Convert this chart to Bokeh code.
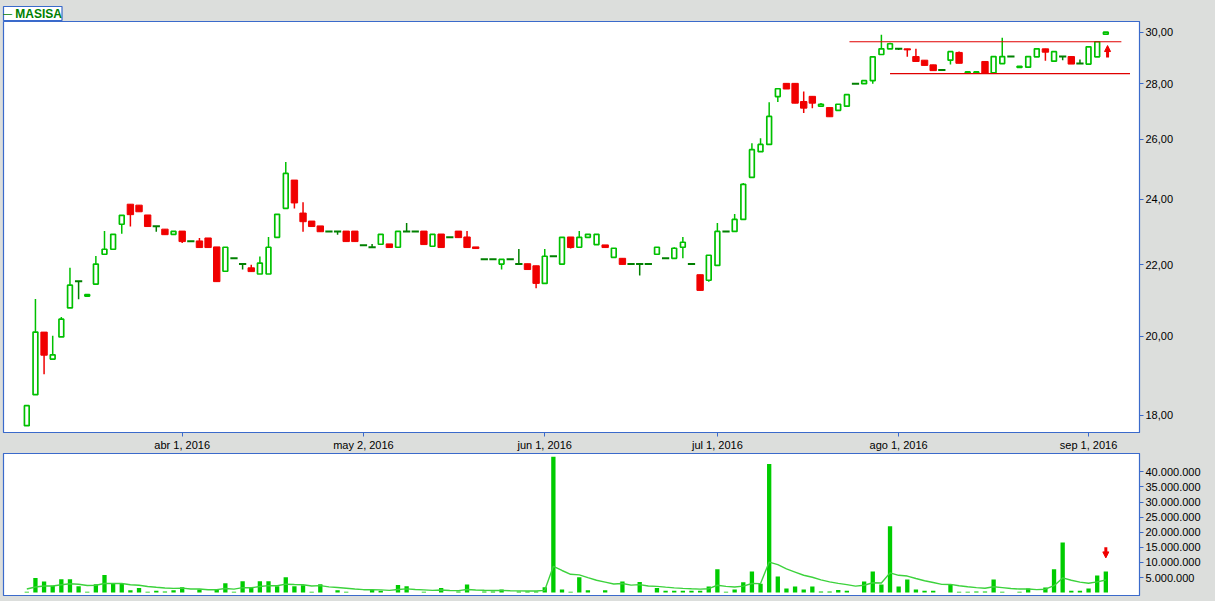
from bokeh.plotting import figure
from bokeh.layouts import column
from bokeh.models import (Range1d, FixedTicker, CustomJSTickFormatter,
                          Arrow, NormalHead, ColumnDataSource)
from bokeh.embed import file_html
from bokeh.resources import INLINE

# ---------------- data ----------------
opens = [17.75, 18.50, 20.11, 19.40, 19.98, 20.77, 21.52, 21.10, 21.44, 22.31,
         22.46, 23.22, 23.85, 23.82, 23.51, 23.16, 23.07, 22.91, 23.01, 22.70,
         22.71, 22.80, 22.53, 21.81, 22.19, 22.02, 21.91, 21.73, 21.73, 22.82,
         23.72, 24.63, 23.57, 23.32, 23.17, 23.00, 23.00, 23.01, 23.01, 22.58,
         22.52, 22.61, 22.62, 22.52, 23.00, 23.00, 23.01, 22.55, 22.92, 22.82,
         23.01, 22.83, 22.53, 22.16, 22.16, 22.02, 22.16, 22.02, 22.03, 21.97,
         21.46, 22.25, 22.02, 22.83, 22.52, 22.82, 22.60, 22.59, 22.22, 22.19,
         22.02, 22.02, 22.02, 22.31, 22.19, 22.19, 22.52, 22.02, 21.71, 21.55,
         21.98, 23.00, 23.00, 23.37, 24.72, 25.58, 25.83, 27.53, 28.02, 28.02,
         27.35, 27.54, 27.18, 27.13, 27.03, 27.18, 28.01, 28.01, 28.12, 29.12,
         29.34, 29.34, 29.34, 29.04, 28.90, 28.72, 28.52, 28.90, 29.20, 28.41,
         28.41, 28.85, 28.42, 28.77, 29.04, 28.62, 28.63, 29.03, 29.34, 28.86,
         29.04, 29.04, 28.77, 28.75, 29.03, 29.92]
closes = [18.23, 20.11, 19.50, 19.51, 20.46, 21.41, 21.52, 21.14, 22.02, 22.46,
          22.91, 23.50, 23.52, 23.61, 23.15, 23.16, 22.90, 23.00, 22.69, 22.70,
          22.51, 22.51, 21.51, 22.52, 22.19, 22.02, 21.80, 22.05, 22.52, 23.53,
          24.85, 23.89, 23.30, 23.15, 22.99, 23.00, 23.00, 22.69, 22.69, 22.58,
          22.52, 22.91, 22.51, 23.00, 23.00, 23.00, 22.60, 22.91, 22.51, 22.82,
          22.81, 22.51, 22.48, 22.16, 22.16, 22.16, 22.16, 22.02, 21.86, 21.46,
          22.25, 22.25, 22.82, 22.51, 22.82, 22.91, 22.91, 22.51, 22.49, 22.01,
          22.02, 22.02, 22.02, 22.52, 22.19, 22.49, 22.67, 22.02, 21.26, 22.28,
          23.00, 23.00, 23.37, 24.49, 25.65, 25.83, 26.81, 27.82, 27.81, 27.29,
          27.11, 27.29, 27.25, 26.80, 27.25, 27.60, 28.01, 28.12, 29.03, 29.34,
          29.54, 29.34, 29.30, 28.85, 28.70, 28.50, 28.52, 29.23, 28.78, 28.45,
          28.45, 28.41, 29.04, 29.04, 29.04, 28.66, 29.04, 29.34, 29.21, 29.23,
          29.04, 28.75, 28.77, 29.42, 29.62, 30.00]
highs = [18.23, 21.02, 20.11, 20.01, 20.52, 21.91, 21.52, 21.14, 22.26, 23.01,
         22.91, 23.50, 23.85, 23.82, 23.51, 23.16, 23.07, 23.00, 23.01, 22.70,
         22.80, 22.80, 22.53, 22.52, 22.19, 22.02, 22.00, 22.24, 22.83, 23.53,
         25.23, 24.63, 23.91, 23.32, 23.17, 23.00, 23.00, 23.01, 23.01, 22.58,
         22.62, 22.91, 22.62, 23.00, 23.26, 23.00, 23.01, 22.91, 22.92, 22.82,
         23.01, 23.01, 22.53, 22.16, 22.16, 22.16, 22.16, 22.47, 22.03, 21.97,
         22.47, 22.25, 22.82, 22.83, 23.01, 22.91, 22.91, 22.59, 22.49, 22.19,
         22.02, 22.02, 22.02, 22.52, 22.19, 22.52, 22.83, 22.02, 21.71, 22.28,
         23.26, 23.00, 23.54, 24.53, 25.87, 26.04, 27.32, 27.82, 28.02, 28.02,
         27.72, 27.54, 27.30, 27.13, 27.25, 27.60, 28.01, 28.12, 29.03, 29.90,
         29.58, 29.34, 29.34, 29.34, 28.90, 28.72, 28.52, 29.23, 29.24, 28.45,
         28.45, 28.85, 29.04, 29.78, 29.04, 28.66, 29.04, 29.34, 29.34, 29.23,
         29.04, 29.04, 28.93, 29.42, 29.62, 30.00]
lows = [17.75, 18.50, 19.01, 19.40, 19.98, 20.77, 21.01, 21.10, 21.44, 22.31,
        22.46, 22.93, 23.15, 23.61, 23.15, 22.99, 22.90, 22.91, 22.65, 22.70,
        22.51, 22.51, 21.51, 21.81, 22.19, 21.86, 21.80, 21.73, 21.73, 22.82,
        23.72, 23.71, 22.99, 23.15, 22.99, 23.00, 22.90, 22.69, 22.69, 22.58,
        22.52, 22.61, 22.51, 22.52, 23.00, 23.00, 22.60, 22.55, 22.51, 22.82,
        22.81, 22.51, 22.48, 22.16, 22.16, 21.86, 22.16, 22.02, 21.86, 21.32,
        21.46, 22.25, 22.02, 22.48, 22.52, 22.82, 22.60, 22.51, 22.22, 22.01,
        22.02, 21.69, 22.02, 22.31, 22.19, 22.19, 22.19, 22.02, 21.26, 21.51,
        21.98, 23.00, 23.00, 23.37, 24.72, 25.58, 25.83, 27.33, 27.81, 27.29,
        26.93, 27.11, 27.18, 26.80, 27.03, 27.18, 28.01, 28.01, 28.01, 29.12,
        29.34, 29.30, 29.03, 28.85, 28.70, 28.50, 28.52, 28.73, 28.78, 28.41,
        28.41, 28.41, 28.42, 28.77, 29.04, 28.62, 28.63, 29.03, 28.88, 28.86,
        28.90, 28.75, 28.77, 28.75, 29.03, 29.92]
# volume, millions of shares
volume_m = [0.3, 4.8, 3.7, 2.3, 4.45, 4.45, 2.1, 0.3, 2.8, 5.8,
            3.0, 3.0, 0.8, 1.5, 0.3, 0.6, 0.4, 0.8, 1.8, 0.0,
            1.0, 0.0, 1.0, 3.1, 0.3, 3.8, 1.5, 3.8, 3.8, 2.1,
            5.1, 2.1, 2.4, 0.3, 2.8, 0.0, 0.8, 0.3, 0.0, 0.0,
            0.9, 0.6, 0.0, 2.5, 2.1, 0.0, 0.3, 0.0, 1.5, 0.0,
            0.4, 2.7, 0.0, 0.4, 0.4, 1.0, 0.0, 0.4, 0.4, 0.4,
            1.8, 45.0, 1.0, 0.3, 5.1, 0.8, 0.0, 0.8, 0.0, 3.7,
            0.0, 3.5, 0.0, 1.5, 0.6, 0.6, 0.6, 0.6, 0.6, 2.0,
            7.7, 0.3, 1.0, 3.4, 7.0, 2.9, 42.6, 5.35, 1.4, 2.0,
            1.0, 2.0, 0.4, 0.4, 0.9, 0.6, 0.0, 3.7, 7.0, 2.7,
            22.0, 2.0, 4.35, 1.0, 0.6, 0.6, 0.0, 2.6, 0.3, 0.3,
            0.4, 0.4, 4.35, 0.3, 0.0, 0.3, 1.4, 0.0, 1.7, 7.7,
            16.6, 0.6, 0.6, 1.4, 5.7, 7.0]
# volume moving average line, millions
vol_avg_m = [1.20, 1.85, 2.18, 2.20, 2.61, 2.94, 2.79, 2.34, 2.42, 3.03,
             3.02, 3.02, 2.62, 2.42, 2.04, 1.78, 1.53, 1.40, 1.47, 1.21,
             1.17, 0.96, 0.97, 1.35, 1.16, 1.64, 1.61, 2.00, 2.32, 2.28,
             2.79, 2.67, 2.62, 2.20, 2.31, 1.89, 1.69, 1.44, 1.18, 0.97,
             0.96, 0.89, 0.73, 1.05, 1.24, 1.02, 0.89, 0.73, 0.87, 0.71,
             0.65, 1.02, 0.84, 0.76, 0.70, 0.75, 0.62, 0.58, 0.55, 0.52,
             0.75, 8.72, 7.33, 6.06, 5.89, 4.97, 4.08, 3.49, 2.86, 3.01,
             2.47, 2.66, 2.18, 2.06, 1.80, 1.58, 1.40, 1.26, 1.14, 1.29,
             2.44, 2.05, 1.86, 2.14, 3.01, 2.99, 10.12, 9.26, 7.85, 6.80,
             5.76, 5.08, 4.24, 3.55, 3.07, 2.63, 2.16, 2.44, 3.26, 3.16,
             6.55, 5.73, 5.48, 4.67, 3.94, 3.34, 2.74, 2.71, 2.28, 1.92,
             1.65, 1.43, 1.96, 1.66, 1.36, 1.17, 1.21, 0.99, 1.12, 2.30,
             4.87, 4.10, 3.47, 3.10, 3.57, 4.19]

date_tick_idx = [18, 39, 60, 80, 101, 123]
date_tick_labels = ["abr 1, 2016", "may 2, 2016", "jun 1, 2016",
                    "jul 1, 2016", "ago 1, 2016", "sep 1, 2016"]
price_ticks = [18, 20, 22, 24, 26, 28, 30]
volume_ticks = [5e6, 10e6, 15e6, 20e6, 25e6, 30e6, 35e6, 40e6]

# channel lines (level, start index, end index)
channel_levels = [29.62, 28.39]
channel_start = [95.3, 100.0]
channel_end = [126.8, 127.8]
# signal arrows
price_arrow = dict(x=125.2, y0=29.00, y1=29.47)
volume_arrow = dict(x=125.0, y0=15.0e6, y1=11.5e6)

# ---------------- styling ----------------
UP = "#00C000"
DOJI = "#008000"
DOWN = "#F00000"
FRAME = "#3A6ACB"
BG = "#DCDEDC"
FONT = "Liberation Sans"

n = len(opens)
idx = list(range(n))
up = [i for i in idx if closes[i] > opens[i]]
dn = [i for i in idx if closes[i] < opens[i]]
dj = [i for i in idx if closes[i] == opens[i]]
wick_col = [UP if closes[i] > opens[i] else (DOWN if closes[i] < opens[i] else DOJI) for i in idx]

x_range = Range1d(-2.7, 128.9)

p = figure(width=1215, height=453, x_range=x_range, y_range=Range1d(17.59, 30.43),
           y_axis_type="log", y_axis_location="right", output_backend="svg",
           toolbar_location=None, min_border_left=3, min_border_right=76,
           min_border_top=21, min_border_bottom=20)
p.background_fill_color = "white"
p.border_fill_color = BG
p.outline_line_color = FRAME
p.outline_line_width = 1.2
p.xgrid.visible = False
p.ygrid.visible = False

# legend-like tag at the top-left
p.title.text = "\u2500 MASISA"
p.title.align = "left"
p.title.text_font = FONT
p.title.text_font_size = "12px"
p.title.text_font_style = "bold"
p.title.text_color = DOJI
p.title.background_fill_color = "white"
p.title.border_line_color = FRAME
p.title.border_line_width = 1.2
p.title.standoff = 2
p.title.offset = 0

wsrc = ColumnDataSource(dict(x=idx, lo=lows, hi=highs, c=wick_col))
p.segment(x0="x", y0="lo", x1="x", y1="hi", line_color="c", line_width=1.5, source=wsrc)

usrc = ColumnDataSource(dict(x=up, o=[opens[i] for i in up], c=[closes[i] for i in up]))
p.vbar(x="x", width=0.55, bottom="o", top="c", fill_color="white", line_color=UP,
       line_width=1.7, source=usrc)
dsrc = ColumnDataSource(dict(x=dn, o=[opens[i] for i in dn], c=[closes[i] for i in dn]))
p.vbar(x="x", width=0.74, bottom="c", top="o", fill_color=DOWN, line_color=DOWN,
       line_width=1, source=dsrc)
jsrc = ColumnDataSource(dict(x0=[i - 0.42 for i in dj], x1=[i + 0.42 for i in dj],
                             y=[closes[i] for i in dj]))
p.segment(x0="x0", y0="y", x1="x1", y1="y", line_color=DOJI, line_width=2, source=jsrc)

p.segment(x0=channel_start, y0=channel_levels, x1=channel_end, y1=channel_levels,
          line_color="#E00000", line_width=1.2)

p.add_layout(Arrow(end=NormalHead(size=6, fill_color=DOWN, line_color=DOWN),
                   x_start=price_arrow["x"], y_start=price_arrow["y0"],
                   x_end=price_arrow["x"], y_end=price_arrow["y1"],
                   line_color=DOWN, line_width=3))

ya = p.yaxis[0]
ya.ticker = FixedTicker(ticks=price_ticks)
ya.formatter = CustomJSTickFormatter(code="return tick.toFixed(2).replace('.', ',');")
xa = p.xaxis[0]
xa.ticker = FixedTicker(ticks=date_tick_idx)
xa.major_label_overrides = dict(zip(date_tick_idx, date_tick_labels))
for ax in (xa, ya):
    ax.axis_line_color = FRAME
    ax.major_tick_line_color = FRAME
    ax.minor_tick_line_color = None
    ax.major_tick_in = 0
    ax.major_tick_out = 4
    ax.major_label_standoff = 2
    ax.major_label_text_font = FONT
    ax.major_label_text_font_size = "11px"
    ax.major_label_text_color = "#000000"

# ---------------- volume panel ----------------
v = figure(width=1215, height=148, x_range=x_range, y_range=Range1d(-0.96e6, 46.1e6),
           y_axis_location="right", output_backend="svg", toolbar_location=None,
           min_border_left=3, min_border_right=76, min_border_top=0, min_border_bottom=6)
v.background_fill_color = "white"
v.border_fill_color = BG
v.outline_line_color = FRAME
v.outline_line_width = 1.2
v.xgrid.visible = False
v.ygrid.visible = False
v.xaxis.visible = False

vsrc = ColumnDataSource(dict(x=idx, vol=[m * 1e6 for m in volume_m],
                             avg=[m * 1e6 for m in vol_avg_m]))
v.vbar(x="x", width=0.5, bottom=0, top="vol", fill_color="#00CC00", line_color=None, source=vsrc)
v.line(x="x", y="avg", line_color="#3CD23C", line_width=1.4, source=vsrc)
v.add_layout(Arrow(end=NormalHead(size=6, fill_color=DOWN, line_color=DOWN),
                   x_start=volume_arrow["x"], y_start=volume_arrow["y0"],
                   x_end=volume_arrow["x"], y_end=volume_arrow["y1"],
                   line_color=DOWN, line_width=3))

vy = v.yaxis[0]
vy.ticker = FixedTicker(ticks=volume_ticks)
vy.formatter = CustomJSTickFormatter(
    code="return Math.round(tick).toString().replace(/\\B(?=(\\d{3})+(?!\\d))/g, '.');")
vy.axis_line_color = FRAME
vy.major_tick_line_color = FRAME
vy.minor_tick_line_color = None
vy.major_tick_in = 0
vy.major_tick_out = 4
vy.major_label_standoff = 2
vy.major_label_text_font = FONT
vy.major_label_text_font_size = "11px"
vy.major_label_text_color = "#000000"

layout = column(p, v, spacing=0)
html = file_html(layout, INLINE, title="MASISA")
html = html.replace("<head>", "<head>\n<style>html,body{margin:0;padding:0;background:#DCDEDC;}</style>", 1)
open("out.html", "w").write(html)
